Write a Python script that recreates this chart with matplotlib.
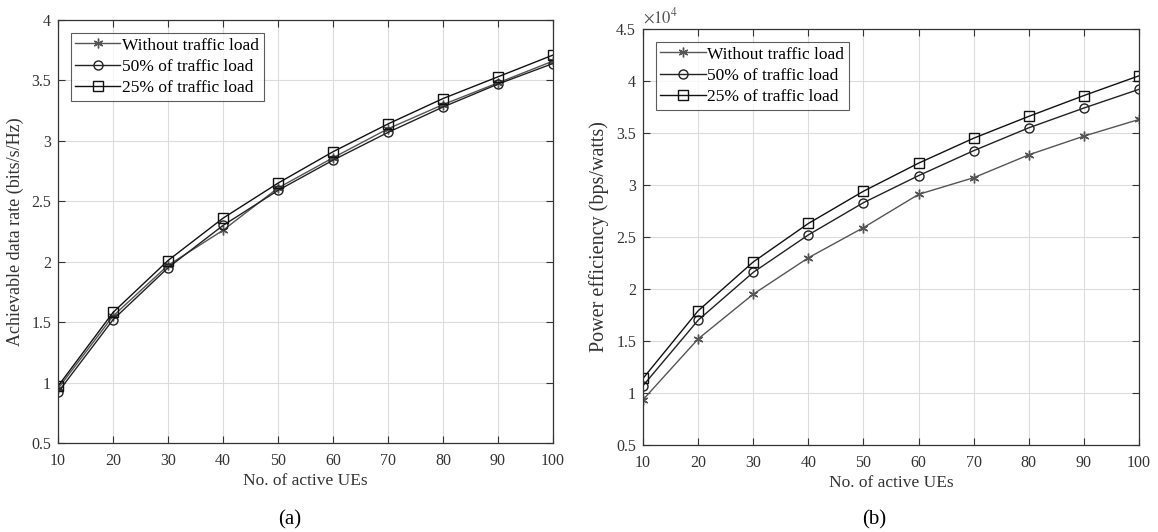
import matplotlib
matplotlib.use("Agg")
import matplotlib.pyplot as plt

plt.rcParams['font.family'] = ['Liberation Serif', 'DejaVu Serif']
plt.rcParams['mathtext.fontset'] = 'stix'

ues = [10, 20, 30, 40, 50, 60, 70, 80, 90, 100]
labels = ["Without traffic load", "50% of traffic load", "25% of traffic load"]

rate_without = [0.95, 1.55, 1.97, 2.26, 2.61, 2.86, 3.10, 3.30, 3.48, 3.66]
rate_50 = [0.92, 1.52, 1.95, 2.30, 2.59, 2.84, 3.07, 3.28, 3.47, 3.64]
rate_25 = [0.97, 1.58, 2.01, 2.36, 2.65, 2.91, 3.14, 3.35, 3.53, 3.71]

pe_without = [0.935, 1.52, 1.95, 2.30, 2.59, 2.91, 3.07, 3.29, 3.47, 3.63]
pe_50 = [1.07, 1.70, 2.16, 2.52, 2.83, 3.09, 3.33, 3.55, 3.74, 3.92]
pe_25 = [1.14, 1.79, 2.26, 2.63, 2.94, 3.21, 3.45, 3.66, 3.86, 4.05]

W, H = 1158, 532
fig = plt.figure(figsize=(W / 100, H / 100), dpi=100)

def px_axes(x0, x1, y0, y1):
    return fig.add_axes([x0 / W, 1 - y1 / H, (x1 - x0) / W, (y1 - y0) / H])

ax1 = px_axes(58, 553, 20, 443)
ax2 = px_axes(643, 1139, 29, 445)

styles = [dict(marker=(6, 2, 0), color='#555555', mfc='none', ms=7, lw=1.0, mew=1.0),
          dict(marker='o', color='#222222', mfc='none', ms=6.5, lw=1.0),
          dict(marker='s', color='#111111', mfc='none', ms=6.5, lw=1.0)]

def setup(ax, ylim, yticks, ylabel, ylsize, sub, subx):
    ax.set_xlim(10, 100)
    ax.set_ylim(*ylim)
    ax.set_xticks(ues)
    ax.set_yticks(yticks)
    ax.set_yticklabels([f"{t:g}" for t in yticks])
    ax.grid(True, color='#dcdcdc', lw=0.8)
    ax.tick_params(direction='in', top=True, right=True, labelsize=11.5,
                   colors='#333333', length=5, labelcolor='#333333')
    ax.tick_params(axis='x', pad=7)
    ax.tick_params(axis='y', pad=5)
    for s in ax.spines.values():
        s.set_color('#333333')
        s.set_linewidth(0.9)
    ax.set_ylabel(ylabel, fontsize=ylsize, color='#333333', labelpad=5)
    ax.set_xlabel("No. of active UEs", fontsize=12.5, color='#333333', labelpad=3)
    fig.text(subx / W, 1 - 520 / H, sub, ha='center', va='center', fontsize=15)
    leg = ax.legend(loc='upper left', fontsize=12.5, frameon=True, fancybox=False,
                    edgecolor='#333333', borderpad=0.25, labelspacing=0.3,
                    handlelength=2.6, handletextpad=0.1, borderaxespad=0.75)
    leg.get_frame().set_linewidth(0.8)

for ys, lab, st in zip([rate_without, rate_50, rate_25], labels, styles):
    ax1.plot(ues, ys, label=lab, **st)
setup(ax1, (0.5, 4), [0.5, 1, 1.5, 2, 2.5, 3, 3.5, 4],
      "Achievable data rate (bits/s/Hz)", 13, "(a)", 290)

for ys, lab, st in zip([pe_without, pe_50, pe_25], labels, styles):
    ax2.plot(ues, ys, label=lab, **st)
setup(ax2, (0.5, 4.5), [0.5, 1, 1.5, 2, 2.5, 3, 3.5, 4, 4.5],
      "Power efficiency (bps/watts)", 14.5, "(b)", 874)
ax2.text(0.0, 1.005, r"$\times10^{4}$", transform=ax2.transAxes, ha='left', va='bottom',
         fontsize=12, color='#555555')

fig.savefig("out.png", dpi=100)
